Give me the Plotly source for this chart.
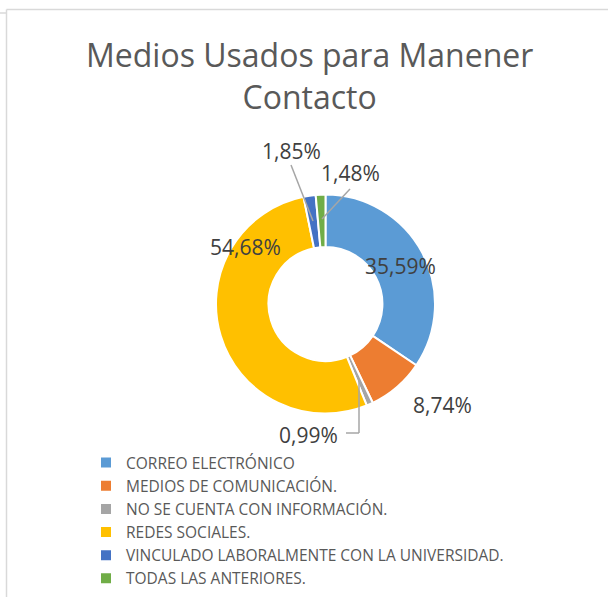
import plotly.graph_objects as go

# datos del grafico
categorias = [
    "CORREO ELECTRÓNICO",
    "MEDIOS DE COMUNICACIÓN.",
    "NO SE CUENTA CON INFORMACIÓN.",
    "REDES SOCIALES.",
    "VINCULADO LABORALMENTE CON LA UNIVERSIDAD.",
    "TODAS LAS ANTERIORES.",
]
porcentajes = [35.59, 8.74, 0.99, 54.68, 1.85, 1.48]
etiquetas = ["35,59%", "8,74%", "0,99%", "54,68%", "1,85%", "1,48%"]
colores = ["#5B9BD5", "#ED7D31", "#A5A5A5", "#FFC000", "#4472C4", "#70AD47"]

W, H = 608, 599


def px(x):
    return x / W


def py(y):
    return 1 - y / H


fig = go.Figure()
fig.add_trace(go.Pie(
    labels=categorias,
    values=porcentajes,
    hole=0.52,
    sort=False,
    direction="clockwise",
    rotation=0,
    marker=dict(colors=colores, line=dict(color="white", width=2)),
    textinfo="none",
    domain=dict(x=[px(216), px(435)], y=[py(413.5), py(194.5)]),
))

# posicion de las etiquetas (estilo Excel "mejor ajuste")
pos_etiquetas = [(400, 266), (442, 405), (308, 435), (245, 247), (291, 151), (350, 173)]
for (x, y), txt in zip(pos_etiquetas, etiquetas):
    fig.add_annotation(x=px(x), y=py(y), xref="paper", yref="paper", text=txt,
                       showarrow=False, font=dict(size=21, color="#404040"),
                       xanchor="center", yanchor="middle")

# lineas guia
guia = dict(color="#A6A6A6", width=1.5)
lineas = [
    [(291, 165), (313, 221)],
    [(350, 189), (322, 219)],
    [(359, 381), (359, 433), (346, 433)],
]
for pts in lineas:
    for (x0, y0), (x1, y1) in zip(pts[:-1], pts[1:]):
        fig.add_shape(type="line", xref="paper", yref="paper",
                      x0=px(x0), y0=py(y0), x1=px(x1), y1=py(y1), line=guia)

# borde del area del grafico
borde = dict(color="#D9D9D9", width=1.5)
fig.add_shape(type="line", xref="paper", yref="paper", x0=px(6.5), y0=py(9.5), x1=1, y1=py(9.5), line=borde)
fig.add_shape(type="line", xref="paper", yref="paper", x0=px(6.5), y0=py(9.5), x1=px(6.5), y1=py(597), line=borde)
fig.add_shape(type="line", xref="paper", yref="paper", x0=0, y0=py(13), x1=px(6.5), y1=py(13), line=borde)

# titulo en dos lineas
fig.add_annotation(x=px(310), y=py(31), xref="paper", yref="paper",
                   text="Medios Usados para Manener<br>Contacto",
                   showarrow=False, xanchor="center", yanchor="top",
                   font=dict(size=32, color="#595959"))

fig.update_layout(
    width=W,
    height=H,
    autosize=False,
    margin=dict(l=0, r=0, t=0, b=0),
    paper_bgcolor="white",
    plot_bgcolor="white",
    font=dict(family="Open Sans, sans-serif", color="#595959"),
    legend=dict(
        x=px(86), xanchor="left",
        y=py(446), yanchor="top",
        traceorder="normal",
        font=dict(size=15.5, color="#595959"),
        bgcolor="rgba(0,0,0,0)",
    ),
    showlegend=True,
)

fig.write_html("out.html", config={"displayModeBar": False},
               post_script="document.body.style.margin='0';")
